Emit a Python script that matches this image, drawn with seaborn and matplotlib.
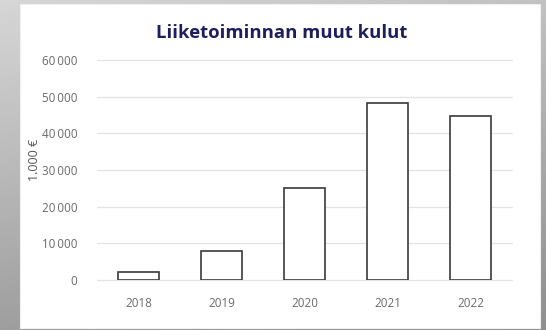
import matplotlib
matplotlib.use("Agg")
import matplotlib.pyplot as plt
import matplotlib.patches as mpatches
import numpy as np
import pandas as pd
import seaborn as sns

years = ["2018", "2019", "2020", "2021", "2022"]
values = [2300, 7900, 25000, 48200, 44700]
y_ticks = [0, 10000, 20000, 30000, 40000, 50000, 60000]
y_tick_labels = ["0", "10\u2009000", "20\u2009000", "30\u2009000", "40\u2009000", "50\u2009000", "60\u2009000"]
title = "Liiketoiminnan muut kulut"
y_label = "1.000 €"

sns.set_theme(style="white")
plt.rcParams["font.family"] = ["Open Sans", "DejaVu Sans"]

df = pd.DataFrame({"year": years, "value": values})

W, H = 546, 330
fig = plt.figure(figsize=(W / 100, H / 100), dpi=100)
fig.patch.set_facecolor("#a9a9a9")

# gray frame with a soft gradient behind the white card
bg = fig.add_axes([0, 0, 1, 1], zorder=-10)
bg.set_axis_off()
grad = np.linspace(0.84, 0.62, 256).reshape(-1, 1)
horiz = np.linspace(1.0, 0.9, 256).reshape(1, -1)
bg.imshow(grad * horiz, cmap="gray", vmin=0, vmax=1, aspect="auto",
          extent=[0, 1, 0, 1], transform=bg.transAxes)
bg.add_patch(mpatches.Rectangle((20 / W, 2 / H), 520 / W, 324 / H,
                                transform=bg.transAxes, facecolor="white",
                                edgecolor="#f0f0f0", lw=0.8))

ax = fig.add_axes([97 / W, 1 - 280 / H, 415 / W, 220 / H])
ax.set_facecolor("none")
sns.barplot(data=df, x="year", y="value", ax=ax, color="white",
            edgecolor="#3a3a3a", linewidth=1.2, width=0.5, saturation=1)

ax.set_ylim(0, 60000)
ax.set_xlim(-0.5, 4.5)
ax.set_yticks(y_ticks)
ax.set_yticklabels(y_tick_labels)
ax.grid(axis="y", color="#e3e3e3", lw=0.9)
ax.set_axisbelow(True)
for gl in ax.get_ygridlines():
    gl.set_clip_on(False)
for s in ax.spines.values():
    s.set_visible(False)
ax.tick_params(axis="both", length=0, labelsize=8.4, labelcolor="#6a6a6a")
ax.tick_params(axis="y", pad=14)
ax.tick_params(axis="x", pad=12)
ax.set_xlabel("")
ax.set_ylabel(y_label, fontsize=9, color="#555555")
ax.yaxis.set_label_coords(-0.134, 0.545)

fig.text(282 / W, 1 - 33 / H, title, ha="center", va="center",
         fontsize=13.3, fontweight="bold", color="#1c1f5c",
         family=["Open Sans", "DejaVu Sans"])

fig.savefig("out.png", dpi=100)
